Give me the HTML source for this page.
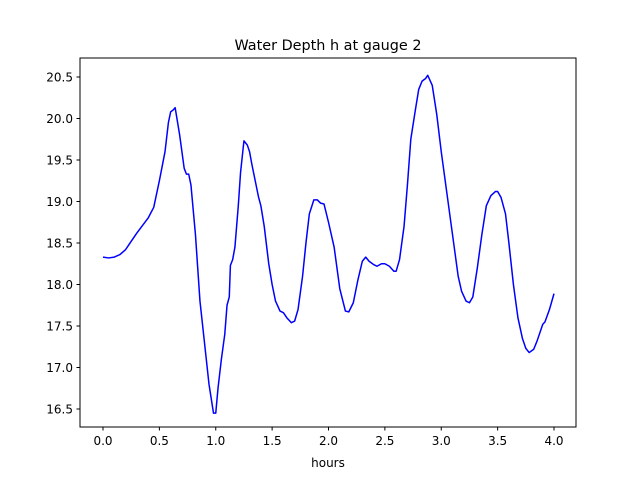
<!DOCTYPE html>
<html><head><meta charset="utf-8"><style>
body{margin:0;background:#fff;}
svg text{font-family:"DejaVu Sans","Liberation Sans",sans-serif;fill:#000;}
</style></head><body>
<svg id="chart" width="640" height="480">
<rect x="0" y="0" width="640" height="480" fill="#fff"/>
<text x="328" y="50" font-size="14.4" text-anchor="middle">Water Depth h at gauge 2</text>
<g id="plot"></g>
<rect x="80" y="58" width="496" height="369" fill="none" stroke="#000" stroke-width="1"/>
<text x="328" y="467" font-size="12" text-anchor="middle">hours</text>
</svg>
<script>
const hours=[0,0.05,0.1,0.15,0.2,0.25,0.3,0.35,0.4,0.45,0.5,0.55,0.58,0.6,0.62,0.64,0.68,0.72,0.74,0.76,0.78,0.82,0.86,0.9,0.94,0.98,1.0,1.02,1.05,1.08,1.1,1.12,1.13,1.15,1.17,1.2,1.22,1.25,1.28,1.3,1.32,1.35,1.38,1.4,1.43,1.47,1.5,1.53,1.57,1.6,1.63,1.67,1.7,1.73,1.77,1.8,1.83,1.87,1.9,1.93,1.96,2.0,2.05,2.1,2.15,2.18,2.22,2.26,2.3,2.33,2.36,2.4,2.43,2.47,2.5,2.54,2.58,2.6,2.63,2.67,2.7,2.73,2.77,2.8,2.83,2.86,2.88,2.92,2.96,3.0,3.05,3.1,3.15,3.18,3.22,3.25,3.28,3.32,3.36,3.4,3.44,3.48,3.5,3.53,3.57,3.6,3.64,3.68,3.72,3.75,3.78,3.82,3.85,3.9,3.92,3.96,4.0];
const depth=[18.33,18.32,18.33,18.36,18.42,18.52,18.62,18.71,18.8,18.93,19.25,19.6,19.95,20.08,20.1,20.13,19.8,19.4,19.33,19.33,19.2,18.6,17.8,17.3,16.8,16.45,16.45,16.75,17.1,17.4,17.75,17.85,18.23,18.3,18.45,18.95,19.35,19.73,19.68,19.6,19.45,19.25,19.05,18.95,18.7,18.25,18.0,17.8,17.68,17.66,17.6,17.54,17.56,17.7,18.1,18.5,18.85,19.02,19.02,18.98,18.97,18.75,18.45,17.95,17.68,17.67,17.78,18.05,18.28,18.33,18.28,18.24,18.22,18.25,18.25,18.22,18.16,18.16,18.3,18.7,19.2,19.75,20.1,20.35,20.45,20.48,20.52,20.4,20.05,19.6,19.1,18.6,18.1,17.92,17.8,17.78,17.85,18.2,18.6,18.95,19.07,19.12,19.12,19.05,18.85,18.5,18.0,17.6,17.35,17.23,17.18,17.22,17.32,17.52,17.55,17.7,17.89];
const xTicks=[0,0.5,1,1.5,2,2.5,3,3.5,4];
const xTickLabels=["0.0","0.5","1.0","1.5","2.0","2.5","3.0","3.5","4.0"];
const yTicks=[16.5,17,17.5,18,18.5,19,19.5,20,20.5];
const yTickLabels=["16.5","17.0","17.5","18.0","18.5","19.0","19.5","20.0","20.5"];
const NS="http://www.w3.org/2000/svg";
const X=v=>103+v*112.75;
const Y=v=>77+(20.5-v)*83;
const g=document.getElementById('plot');
function mk(t,a){const e=document.createElementNS(NS,t);for(const k in a)e.setAttribute(k,a[k]);return e;}
xTicks.forEach((t,i)=>{
 const l=mk('line',{x1:X(t),x2:X(t),y1:427,y2:430.5,stroke:'#000'});
 
 
 g.appendChild(l);
 const tx=mk('text',{x:X(t),y:445,'font-size':12,'text-anchor':'middle'});
 tx.textContent=xTickLabels[i];
 
 
 g.appendChild(tx);
});
yTicks.forEach((t,i)=>{
 const l=mk('line',{x1:76.5,x2:80,y1:Y(t),y2:Y(t),stroke:'#000'});
 
 
 g.appendChild(l);
 const tx=mk('text',{x:73,y:Y(t)+4.5,'font-size':12,'text-anchor':'end'});
 tx.textContent=yTickLabels[i];
 
 
 g.appendChild(tx);
});
const p=mk('polyline',{points:hours.map((h,i)=>X(h)+','+Y(depth[i])).join(' '),fill:'none',stroke:'#0000ff','stroke-width':1.5,'stroke-linejoin':'round'});


g.appendChild(p);
</script>
</body></html>
